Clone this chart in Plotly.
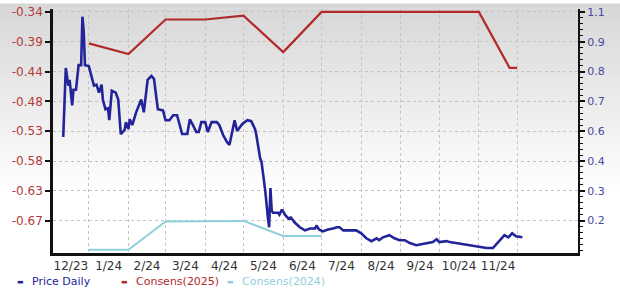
import plotly.graph_objects as go
import pandas as pd

# ---------------- data ----------------
PRICE_DATES = [
    "2023-12-12", "2023-12-14", "2023-12-16", "2023-12-17", "2023-12-19", "2023-12-20",
    "2023-12-22", "2023-12-24", "2023-12-26", "2023-12-27", "2023-12-28", "2023-12-29",
    "2024-01-01", "2024-01-04", "2024-01-05", "2024-01-07", "2024-01-09", "2024-01-11",
    "2024-01-12", "2024-01-14", "2024-01-16", "2024-01-17", "2024-01-19", "2024-01-22",
    "2024-01-24", "2024-01-26", "2024-01-29", "2024-01-30", "2024-02-01", "2024-02-02",
    "2024-02-04", "2024-02-07", "2024-02-11", "2024-02-13", "2024-02-16", "2024-02-19",
    "2024-02-21", "2024-02-23", "2024-02-24", "2024-02-28", "2024-03-01", "2024-03-04",
    "2024-03-07", "2024-03-10", "2024-03-12", "2024-03-14", "2024-03-18", "2024-03-20",
    "2024-03-22", "2024-03-25", "2024-03-27", "2024-03-29", "2024-04-01", "2024-04-03",
    "2024-04-06", "2024-04-10", "2024-04-12", "2024-04-15", "2024-04-18", "2024-04-20",
    "2024-04-24", "2024-04-26", "2024-04-30", "2024-05-04", "2024-05-07", "2024-05-10",
    "2024-05-11", "2024-05-14", "2024-05-15", "2024-05-16", "2024-05-18", "2024-05-20",
    "2024-05-21", "2024-05-22", "2024-05-23", "2024-05-24", "2024-05-28", "2024-05-29",
    "2024-05-31", "2024-06-03", "2024-06-05", "2024-06-07", "2024-06-10", "2024-06-14",
    "2024-06-18", "2024-06-22", "2024-06-26", "2024-06-27", "2024-06-29", "2024-07-02",
    "2024-07-06", "2024-07-10", "2024-07-13", "2024-07-15", "2024-07-18", "2024-07-23",
    "2024-07-28", "2024-08-01", "2024-08-05", "2024-08-09", "2024-08-13", "2024-08-15",
    "2024-08-18", "2024-08-23", "2024-08-27", "2024-08-31", "2024-09-04", "2024-09-08",
    "2024-09-13", "2024-09-17", "2024-09-21", "2024-09-26", "2024-09-29", "2024-10-01",
    "2024-10-07", "2024-10-09", "2024-10-14", "2024-10-20", "2024-10-25", "2024-10-30",
    "2024-11-02", "2024-11-07", "2024-11-12", "2024-11-16", "2024-11-21", "2024-11-24",
    "2024-11-27", "2024-11-30", "2024-12-05",
]
PRICE_VALUES = [
    0.536, 0.825, 0.751, 0.775, 0.668, 0.734,
    0.734, 0.837, 0.837, 1.040, 0.980, 0.837,
    0.833, 0.763, 0.751, 0.755, 0.722, 0.755,
    0.693, 0.652, 0.656, 0.606, 0.730, 0.722,
    0.693, 0.548, 0.565, 0.598, 0.569, 0.610,
    0.586, 0.639, 0.693, 0.639, 0.775, 0.792,
    0.779, 0.693, 0.652, 0.647, 0.606, 0.606,
    0.627, 0.627, 0.586, 0.548, 0.548, 0.610,
    0.590, 0.557, 0.557, 0.598, 0.598, 0.557,
    0.598, 0.598, 0.586, 0.544, 0.515, 0.503,
    0.606, 0.561, 0.590, 0.606, 0.602, 0.569,
    0.544, 0.445, 0.433, 0.392, 0.309, 0.198,
    0.157, 0.322, 0.227, 0.218, 0.218, 0.210,
    0.231, 0.206, 0.194, 0.198, 0.177, 0.157,
    0.144, 0.152, 0.152, 0.165, 0.148, 0.140,
    0.148, 0.152, 0.157, 0.157, 0.144, 0.144,
    0.144, 0.132, 0.111, 0.099, 0.111, 0.103,
    0.115, 0.124, 0.111, 0.103, 0.103, 0.091,
    0.082, 0.086, 0.091, 0.095, 0.107, 0.095,
    0.099, 0.095, 0.091, 0.086, 0.082, 0.078,
    0.074, 0.070, 0.070, 0.095, 0.124, 0.115,
    0.132, 0.119, 0.115,
]

CONS2025_DATES = ["2024-01-01", "2024-02-01", "2024-03-01", "2024-04-01", "2024-05-01",
                  "2024-06-01", "2024-07-01", "2024-08-01", "2024-09-01", "2024-10-01",
                  "2024-11-01", "2024-11-25", "2024-12-01"]
CONS2025_VALUES = [-0.392, -0.409, -0.354, -0.354, -0.348,
                   -0.406, -0.342, -0.342, -0.342, -0.342,
                   -0.342, -0.431, -0.431]

CONS2024_DATES = ["2024-01-01", "2024-02-01", "2024-03-01", "2024-04-01", "2024-05-01",
                  "2024-06-01", "2024-07-01"]
CONS2024_VALUES = [-0.721, -0.721, -0.676, -0.676, -0.675, -0.699, -0.699]

LEFT_TICKVALS = [-0.342, -0.3895, -0.437, -0.4845, -0.532, -0.5795, -0.627, -0.6745]
LEFT_TICKTEXT = ["-0.34", "-0.39", "-0.44", "-0.48", "-0.53", "-0.58", "-0.63", "-0.67"]
RIGHT_TICKVALS = [1.06, 0.935, 0.81, 0.685, 0.56, 0.435, 0.31, 0.185]
RIGHT_TICKTEXT = ["1.1", "0.9", "0.8", "0.7", "0.6", "0.4", "0.3", "0.2"]

MONTH_LABELS = ["12/23", "1/24", "2/24", "3/24", "4/24", "5/24", "6/24",
                "7/24", "8/24", "9/24", "10/24", "11/24"]
MONTH_STARTS = ["2023-12-01", "2024-01-01", "2024-02-01", "2024-03-01", "2024-04-01",
                "2024-05-01", "2024-06-01", "2024-07-01", "2024-08-01", "2024-09-01",
                "2024-10-01", "2024-11-01", "2024-12-01"]

X_RANGE = ["2023-12-04", "2025-01-17 12:00"]
LEFT_RANGE = [-0.7261, -0.3373]
RIGHT_RANGE = [0.0493, 1.0724]

# label positions: middle of each month
starts = pd.to_datetime(MONTH_STARTS)
mids = [starts[i] + (starts[i + 1] - starts[i]) / 2 for i in range(len(MONTH_LABELS))]
mids[0] = pd.Timestamp("2023-12-18")  # centred in visible part of December

# ---------------- figure ----------------
FONT = "DejaVu Sans"
BLUE = "#23239a"
RED = "#b22a2a"
CYAN = "#8ecfdc"

fig = go.Figure()
fig.add_trace(go.Scatter(x=CONS2025_DATES, y=CONS2025_VALUES, mode="lines",
                         line=dict(color=RED, width=2.2), name="Consens(2025)",
                         yaxis="y", hoverinfo="skip"))
fig.add_trace(go.Scatter(x=CONS2024_DATES, y=CONS2024_VALUES, mode="lines",
                         line=dict(color=CYAN, width=2), name="Consens(2024)",
                         yaxis="y", hoverinfo="skip"))
fig.add_trace(go.Scatter(x=PRICE_DATES, y=PRICE_VALUES, mode="lines",
                         line=dict(color=BLUE, width=2.6), name="Price Daily",
                         yaxis="y2", hoverinfo="skip"))

# gradient background strips
shapes = []
n = 40
top_pix, end_pix = 0, 190
H = 248.0
for i in range(n):
    p0 = top_pix + (end_pix - top_pix) * i / n
    p1 = top_pix + (end_pix - top_pix) * (i + 1) / n
    t = i / (n - 1)
    c = int(215 + (255 - 215) * t)
    shapes.append(dict(type="rect", xref="paper", yref="paper", layer="below",
                       x0=-0.11, x1=1.09, y0=(253 - p1) / H, y1=(253 - p0) / H + 0.002,
                       fillcolor=f"rgb({c},{c},{c})", line=dict(width=0)))

grid = dict(color="#c4c4c4", dash="dot")

fig.update_layout(
    width=620, height=301,
    margin=dict(l=53, r=42, t=5, b=48),
    paper_bgcolor="white", plot_bgcolor="rgba(0,0,0,0)",
    showlegend=False,
    font=dict(family=FONT, size=12, color="#333333"),
    shapes=shapes,
    xaxis=dict(
        type="date", range=X_RANGE,
        tickmode="array", tickvals=mids, ticktext=MONTH_LABELS,
        ticks="", showgrid=False, showline=True, linecolor="#111111", linewidth=3,
        tickfont=dict(size=12, color="#333333", family=FONT), zeroline=False,
        minor=dict(tickmode="array", tickvals=MONTH_STARTS[1:], showgrid=True,
                   gridcolor=grid["color"], griddash=grid["dash"], gridwidth=1, ticks=""),
    ),
    yaxis=dict(
        range=LEFT_RANGE, tickmode="array", tickvals=LEFT_TICKVALS, ticktext=LEFT_TICKTEXT,
        ticks="outside", ticklen=5, tickcolor="#111111", tickwidth=1.5,
        showline=True, linecolor="#111111", linewidth=2.5,
        showgrid=True, gridcolor=grid["color"], griddash=grid["dash"], gridwidth=1,
        zeroline=False, tickfont=dict(size=12, color="#b23a3a", family=FONT),
    ),
    yaxis2=dict(
        range=RIGHT_RANGE, overlaying="y", side="right", anchor="x",
        tickmode="array", tickvals=RIGHT_TICKVALS, ticktext=RIGHT_TICKTEXT,
        ticks="outside", ticklen=5, tickcolor="#111111", tickwidth=1.5,
        showline=True, linecolor="#111111", linewidth=2,
        showgrid=False, zeroline=False,
        tickfont=dict(size=11, color="#4a4aa0", family=FONT),
        minor=dict(tickmode="linear", tick0=0.06, dtick=0.025, ticks="outside",
                   ticklen=3, tickcolor="#111111", tickwidth=1, showgrid=False),
    ),
)

# legend drawn as text
LEGEND = [("Price Daily", BLUE, 20), ("Consens(2025)", RED, 124), ("Consens(2024)", CYAN, 230)]
for name, col, px in LEGEND:
    fig.add_annotation(xref="paper", yref="paper", x=(px - 53) / 525.0, y=(253 - 282) / H,
                       text="\u25ac", showarrow=False, xanchor="center", yanchor="middle",
                       font=dict(size=7, color=col, family=FONT))
    fig.add_annotation(xref="paper", yref="paper", x=(px + 10 - 53) / 525.0, y=(253 - 282) / H,
                       text=name, showarrow=False, xanchor="left", yanchor="middle",
                       font=dict(size=11, color=col, family=FONT))

fig.write_html("out.html")
